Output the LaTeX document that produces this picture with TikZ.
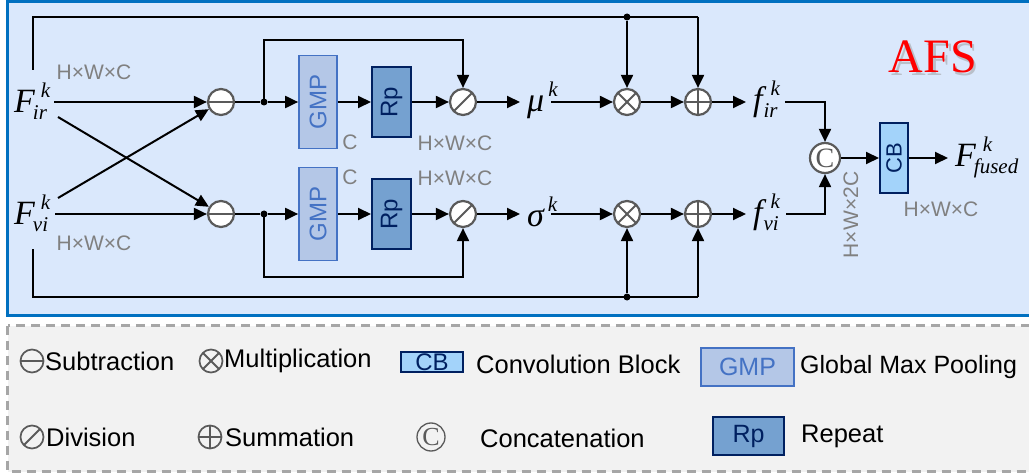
\documentclass[tikz,border=0pt]{standalone}
\usepackage{fontspec}
\setmainfont{Liberation Sans}
\newfontfamily\serif{Liberation Serif}
\usetikzlibrary{arrows.meta,calc}

\definecolor{bgblue}{HTML}{DAE8FC}
\definecolor{edgeblue}{HTML}{0070C0}
\definecolor{gmpfill}{HTML}{B4C7E7}
\definecolor{gmpedge}{HTML}{4472C4}
\definecolor{rpfill}{HTML}{75A1D0}
\definecolor{navy}{HTML}{002060}
\definecolor{cbfill}{HTML}{A3D3FA}
\definecolor{opgray}{HTML}{5A5A5A}
\definecolor{dimgray}{HTML}{808080}
\definecolor{legfill}{HTML}{F2F2F2}
\definecolor{legedge}{HTML}{A6A6A6}

% italic variable with superscript / subscript
\newcommand\mainv[1]{{\serif\itshape\fontsize{34}{34}\selectfont #1}}
\newcommand\supsub[4]{{\serif\itshape\fontsize{21}{21}\selectfont\rlap{\kern#1\raisebox{15pt}{#2}}\kern#3\raisebox{-7pt}{#4}}}

\tikzset{
  arr/.style={line width=2pt, -{Triangle[length=13pt,width=12pt]}},
  plain/.style={line width=2pt},
  op/.style={circle, draw=opgray, line width=2.2pt, fill=white, minimum size=26pt, inner sep=0pt},
  oplines/.style={draw=opgray, line width=2pt},
  subop/.style={op, path picture={\draw[oplines] (path picture bounding box.west) -- (path picture bounding box.east);}},
  addop/.style={op, path picture={\draw[oplines] (path picture bounding box.west) -- (path picture bounding box.east);
     \draw[oplines] (path picture bounding box.north) -- (path picture bounding box.south);}},
  mulop/.style={op, path picture={\draw[oplines] ([shift={(45:14pt)}]path picture bounding box.center) -- ([shift={(225:14pt)}]path picture bounding box.center);
     \draw[oplines] ([shift={(135:14pt)}]path picture bounding box.center) -- ([shift={(315:14pt)}]path picture bounding box.center);}},
  divop/.style={op, path picture={\draw[oplines] ([shift={(45:14pt)}]path picture bounding box.center) -- ([shift={(225:14pt)}]path picture bounding box.center);}},
  catop/.style={op, minimum size=30pt, text=opgray, font=\serif\fontsize{28}{28}\selectfont},
  gmpbox/.style={draw=gmpedge, fill=gmpfill, line width=1.7pt, text=gmpedge, minimum width=93pt, minimum height=38pt, inner sep=0pt, rotate=90, font=\fontsize{24}{24}\selectfont},
  rpbox/.style={draw=navy, fill=rpfill, line width=2pt, text=navy, minimum width=70pt, minimum height=39pt, inner sep=0pt, rotate=90, font=\fontsize{24}{24}\selectfont},
  cbbox/.style={draw=navy, fill=cbfill, line width=2pt, text=navy, minimum width=70pt, minimum height=28pt, inner sep=0pt, rotate=90, font=\fontsize{22}{22}\selectfont},
  dim/.style={text=dimgray, inner sep=0pt, font=\fontsize{21}{21}\selectfont},
  var/.style={inner sep=0pt, anchor=base west},
  dot/.style={circle, fill=black, inner sep=0pt, minimum size=7pt},
  legtext/.style={anchor=west, inner sep=0pt, font=\fontsize{25.5}{25.5}\selectfont},
  legop/.style={minimum size=23pt, line width=1.7pt, fill=none},
  from/.style={shorten <=7pt},
  gap/.style={shorten >=7pt},
}

\begin{document}
\begin{tikzpicture}[x=1pt,y=-1pt]
\useasboundingbox (0,0) rectangle (1029,476);

% frames (both run past the right edge)
\draw[draw=edgeblue, fill=bgblue, line width=3pt] (7.5,1.5) rectangle (1040,315.5);
\draw[draw=legedge, fill=legfill, line width=2.5pt, dash pattern=on 9pt off 6pt] (7.5,325.5) rectangle (1040,471.5);

% title with a soft shadow
\node[text=black!40, opacity=0.5, font=\serif\fontsize{48}{48}\selectfont] at (935.5,59.5) {AFS};
\node[text=red, font=\serif\fontsize{48}{48}\selectfont] (title) at (933,57) {AFS};

% inputs
\node[var] (Fir) at (14,113) {\mainv{F}\supsub{6pt}{k}{-2pt}{ir}};
\node[var] (Fvi) at (14,225) {\mainv{F}\supsub{6pt}{k}{-2pt}{vi}};
\node[dim] (dimir) at (94,72) {H×W×C};
\node[dim] (dimvi) at (94,243) {H×W×C};

% operators and blocks, upper branch
\node[subop] (s1) at (221,102) {};
\node[gmpbox] (g1) at (318,102) {GMP};
\node[rpbox] (r1) at (391.5,102) {Rp};
\node[divop] (v1) at (463,102) {};
\node[var] (mu) at (527,112) {\mainv{μ}\supsub{4pt}{k}{0pt}{}};
\node[mulop] (m1) at (627,102) {};
\node[addop] (p1) at (698,102) {};
\node[var] (fir) at (753,111) {\mainv{f}\supsub{8pt}{k}{1pt}{ir}};

% operators and blocks, lower branch
\node[subop] (s2) at (221,214) {};
\node[gmpbox] (g2) at (318,214) {GMP};
\node[rpbox] (r2) at (391.5,214) {Rp};
\node[divop] (v2) at (463,214) {};
\node[var] (sg) at (527,226) {\mainv{σ}\supsub{4pt}{k}{0pt}{}};
\node[mulop] (m2) at (627,214) {};
\node[addop] (p2) at (698,214) {};
\node[var] (fvi) at (753,223) {\mainv{f}\supsub{8pt}{k}{1pt}{vi}};

% fusion
\node[catop] (c) at (825,158) {C};
\node[cbbox] (cb) at (894,158) {CB};
\node[var] (Ff) at (955,167) {\mainv{F}\supsub{7pt}{k}{-2pt}{fused}};

% dimension notes
\node[dim] at (350,142) {C};
\node[dim] at (350,177) {C};
\node[dim] at (455,143) {H×W×C};
\node[dim] at (455,178) {H×W×C};
\node[dim, rotate=90] at (851,215) {H×W×2C};
\node[dim] at (941,209) {H×W×C};

% branch points
\node[dot] (d1) at (264,102) {};
\node[dot] (d2) at (264,214) {};
\node[dot] (t1) at (627,17) {};
\node[dot] (t2) at (627,297) {};
\coordinate (ta) at (33,70);
\coordinate (ba) at (33,249);
\coordinate (tr) at (698,17);
\coordinate (br) at (698,297);
\coordinate (xa) at (58,117);
\coordinate (xb) at (58,198);

% input connections
\draw[arr, from] (Fir.east |- s1) -- (s1);
\draw[arr, from] (Fvi.east |- s2) -- (s2);
\draw[arr] (xa) -- (s2);
\draw[arr] (xb) -- (s1);

% upper branch
\draw[plain] (s1) -- (d1);
\draw[arr] (d1) -- (g1);
\draw[arr] (g1) -- (r1);
\draw[arr] (r1) -- (v1);
\draw[arr] (d1.center) |- ($(v1)+(0,-62)$) -- (v1);
\draw[arr, gap] (v1) -- (v1 -| mu.west);
\draw[arr, from] (mu.east |- m1) -- (m1);
\draw[arr] (m1) -- (p1);
\draw[arr, gap] (p1) -- (p1 -| fir.west);
\draw[plain] (ta) |- (tr);
\draw[arr] (tr) -- (p1);
\draw[arr] (t1) -- (m1);

% lower branch
\draw[plain] (s2) -- (d2);
\draw[arr] (d2) -- (g2);
\draw[arr] (g2) -- (r2);
\draw[arr] (r2) -- (v2);
\draw[arr] (d2.center) |- ($(v2)+(0,63)$) -- (v2);
\draw[arr, gap] (v2) -- (v2 -| sg.west);
\draw[arr, from] (sg.east |- m2) -- (m2);
\draw[arr] (m2) -- (p2);
\draw[arr, gap] (p2) -- (p2 -| fvi.west);
\draw[plain] (ba) |- (br);
\draw[arr] (br) -- (p2);
\draw[arr] (t2) -- (m2);

% fusion
\draw[arr, from] (fir.east |- p1) -| (c);
\draw[arr, from] (fvi.east |- p2) -| (c);
\draw[arr] (c) -- (cb);
\draw[arr, gap] (cb) -- (cb -| Ff.west);

% legend
\node[subop, legop] (ls) at (32,361) {};
\node[legtext] at (45,361) {Subtraction};
\node[mulop, legop] (lm) at (211,361) {};
\node[legtext] at (224,361) {Multiplication};
\node[draw=navy, fill=cbfill, line width=1.7pt, text=navy, minimum width=62pt, minimum height=20pt, inner sep=0pt, font=\fontsize{24}{24}\selectfont] (lcb) at (432,362) {CB};
\node[legtext] at (476,364) {Convolution Block};
\node[draw=gmpedge, fill=gmpfill, line width=1.7pt, text=gmpedge, minimum width=93pt, minimum height=38pt, inner sep=0pt, font=\fontsize{25}{25}\selectfont] (lgmp) at (747.5,367) {GMP};
\node[legtext, font=\fontsize{25}{25}\selectfont] at (800,367) {Global Max Pooling};

\node[divop, legop] (ld) at (32,437) {};
\node[legtext] at (46,437) {Division};
\node[addop, legop] (la) at (210,437) {};
\node[legtext] at (225,437) {Summation};
\node[circle, draw=opgray, line width=1.3pt, minimum size=28pt, inner sep=0pt, text=opgray, font=\serif\fontsize{26}{26}\selectfont] (lc) at (431,437) {C};
\node[legtext] at (480,438) {Concatenation};
\node[draw=navy, fill=rpfill, line width=2pt, text=navy, minimum width=71pt, minimum height=38pt, inner sep=0pt, font=\fontsize{25}{25}\selectfont] (lrp) at (748.5,436) {Rp};
\node[legtext] at (801,436) {Repeat};
\end{tikzpicture}
\end{document}
